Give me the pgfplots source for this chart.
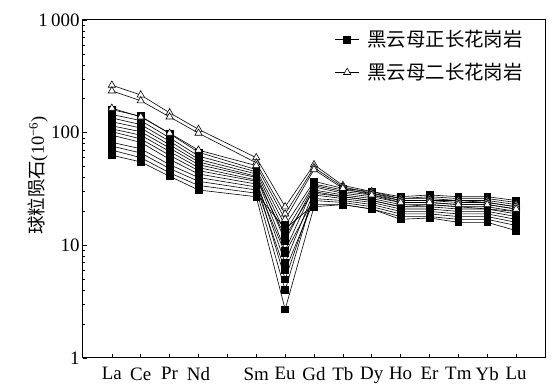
\documentclass[border=0pt]{standalone}
\usepackage{pgfplots}
\pgfplotsset{compat=1.18}
\usepackage{pgfplotstable}
\usepackage{fontspec}
\setmainfont{Liberation Serif}
\newfontfamily\cjk{Noto Sans CJK SC}
\pgfplotstableread{
x  S1  S2  S3  S4  S5  S6  S7  S8  S9  S10 S11 S12  T1  T2  T3
1  160 145 135 125 115 108 102 95  82  76  70  63   264 235 165
2  140 128 118 110 102 95  88  82  72  66  60  55   216 192 138
3  98  90  84  78  73  68  63  58  52  48  44  41   150 138 99
4  67  62  58  55  52  49  46  43  40  37  34  31   107 99  70
6  47  45  43  41  40  38  37  35  33  31  29  27   60  54  51
7  15  13  11  9   12  7   5   8.5 6   4   14  2.7  22  19  17
8  37  35  34  33  31  30  28  26  25  29  23  22   52  49  47
9  32  31  30  29  28  27  26  25  24  27  23  23   34  33  32
10 30  29  28  27  26  25  24  23  22  25  21  21   30  29  28
11 27  26  25  24  23  22  21  20  19  22  18  17   26  25  24
12 28  27  25  24  23  22  21  20  19  23  18  17.5 26  25  24
13 27  26  25  23  22  21  20  19  18  22  17  16   25  24  23
14 27  26  24  23  22  21  20  19  18  21  17  16   25  24  23
15 25  24  22  21  20  19  18  17  16  20  15  13.5 23  22  21
}\ree
\pgfplotsset{
  sq/.style={black, line width=0.6bp, mark=square*, mark size=3.4bp, mark options={solid, fill=black}},
  tri/.style={black, line width=0.6bp, mark=triangle*, mark size=4.2bp, mark options={solid, fill=white, line width=0.6bp}},
}
\begin{document}
\begin{tikzpicture}
\begin{axis}[
  scale only axis,
  width=462bp, height=338bp,
  ymode=log, ymin=1, ymax=1000,
  xmin=0, xmax=16,
  xtick={1,...,15},
  xticklabels={La,Ce,Pr,Nd,,Sm,Eu,Gd,Tb,Dy,Ho,Er,Tm,Yb,Lu},
  ytick={1,10,100,1000},
  yticklabels={1,10,100,1\,000},
  tick align=inside, tick pos=left,
  major tick length=4bp, minor tick length=2.5bp,
  axis line style={line width=1bp},
  tick style={line width=0.6bp, black},
  tick label style={font=\fontsize{19}{22}\selectfont},
  xticklabel style={yshift=-6bp},
  ylabel={{\cjk 球粒陨石}(10\textsuperscript{−6})},
  ylabel style={font=\fontsize{18.5}{22}\selectfont, at={(axis description cs:-0.097,0.54)}, anchor=center, rotate=0},
  legend style={draw=none, fill=none, at={(axis description cs:0.545,0.975)}, anchor=north west,
    font=\fontsize{19.5}{23}\selectfont, row sep=11bp, column sep=6bp, inner sep=0pt},
  legend cell align=left,
  legend image code/.code={\draw[mark repeat=2,mark phase=2] plot coordinates {(0cm,0cm)(0.42cm,0cm)(0.84cm,0cm)};},
]
\addplot[sq] table[x=x,y=S1]{\ree}; \addlegendentry{\cjk 黑云母正长花岗岩}
\addplot[sq,forget plot] table[x=x,y=S2]{\ree};
\addplot[sq,forget plot] table[x=x,y=S3]{\ree};
\addplot[sq,forget plot] table[x=x,y=S4]{\ree};
\addplot[sq,forget plot] table[x=x,y=S5]{\ree};
\addplot[sq,forget plot] table[x=x,y=S6]{\ree};
\addplot[sq,forget plot] table[x=x,y=S7]{\ree};
\addplot[sq,forget plot] table[x=x,y=S8]{\ree};
\addplot[sq,forget plot] table[x=x,y=S9]{\ree};
\addplot[sq,forget plot] table[x=x,y=S10]{\ree};
\addplot[sq,forget plot] table[x=x,y=S11]{\ree};
\addplot[sq,forget plot] table[x=x,y=S12]{\ree};
\addplot[tri] table[x=x,y=T1]{\ree}; \addlegendentry{\cjk 黑云母二长花岗岩}
\addplot[tri,forget plot] table[x=x,y=T2]{\ree};
\addplot[tri,forget plot] table[x=x,y=T3]{\ree};
\end{axis}
\pgfresetboundingbox
\path ([shift={(-83bp,-26bp)}]current axis.south west) rectangle ([shift={(8bp,20bp)}]current axis.north east);
\end{tikzpicture}
\end{document}
